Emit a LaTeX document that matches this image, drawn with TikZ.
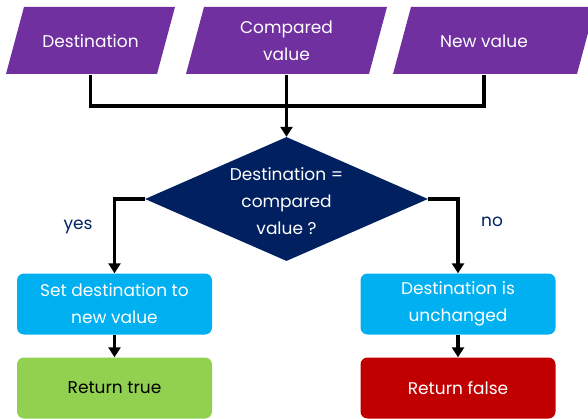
\documentclass[tikz,border=0pt]{standalone}
\usepackage{fontspec}
\setmainfont{Poppins}
\usetikzlibrary{arrows.meta,shapes.geometric}
\definecolor{purp}{HTML}{7030A0}
\definecolor{navy}{HTML}{002060}
\definecolor{sky}{HTML}{00B0F0}
\definecolor{grn}{HTML}{92D050}
\definecolor{red}{HTML}{C00000}
\begin{document}
\begin{tikzpicture}[x=1pt,y=-1pt,
  txt/.style={font=\fontsize{17}{27}\selectfont, align=center, text=white},
  inbox/.style={txt, minimum width=150pt, minimum height=67pt, inner sep=0pt},
  rbox/.style={txt, rounded corners=7pt, minimum width=195pt, minimum height=61pt, inner sep=0pt},
  wire/.style={line width=3.5pt, black},
  arr/.style={wire, -{Triangle[length=10pt,width=12pt]}},
  lbl/.style={font=\fontsize{17}{20}\selectfont, text=navy}]
\useasboundingbox (0,0) rectangle (588,419);
% input parallelograms
\fill[purp] (24,7) -- (175,7) -- (157,74) -- (6,74) -- cycle;
\fill[purp] (204,7) -- (387,7) -- (369,74) -- (186,74) -- cycle;
\fill[purp] (411,7) -- (595,7) -- (577,74) -- (393,74) -- cycle;
\node[inbox] (dest) at (90.5,41) {Destination};
\node[inbox] (cmp) at (286.5,41) {Compared\\value};
\node[inbox] (nv) at (484,41) {New value};
\coordinate (j) at (286,106);
% decision
\node[diamond, fill=navy, minimum width=283pt, minimum height=124pt, inner sep=0pt] (dec) at (286.5,199) {};
\node[txt] (dectxt) at (286.5,201) {Destination =\\compared\\value ?};
% outcome boxes
\node[rbox, fill=sky] (sd) at (114.5,304) {Set destination to\\new value};
\node[rbox, fill=grn, text=black] (rt) at (114.5,388) {Return true};
\node[rbox, fill=sky] (dc) at (458,304) {Destination is\\unchanged};
\node[rbox, fill=red] (rf) at (458,388) {Return false};
% connectors
\draw[wire] (dest.south) |- (nv.south |- j) -- (nv.south);
\draw[arr] (cmp.south) -- (dec.north);
\draw[arr] (dec.west) -| (sd.north);
\draw[arr] (dec.east) -| (dc.north);
\draw[arr] (sd.south) -- (rt.north);
\draw[arr] (dc.south) -- (rf.north);
% labels
\node[lbl] (yes) at (78,227) {yes};
\node[lbl] (no) at (492,222) {no};
\end{tikzpicture}
\end{document}
